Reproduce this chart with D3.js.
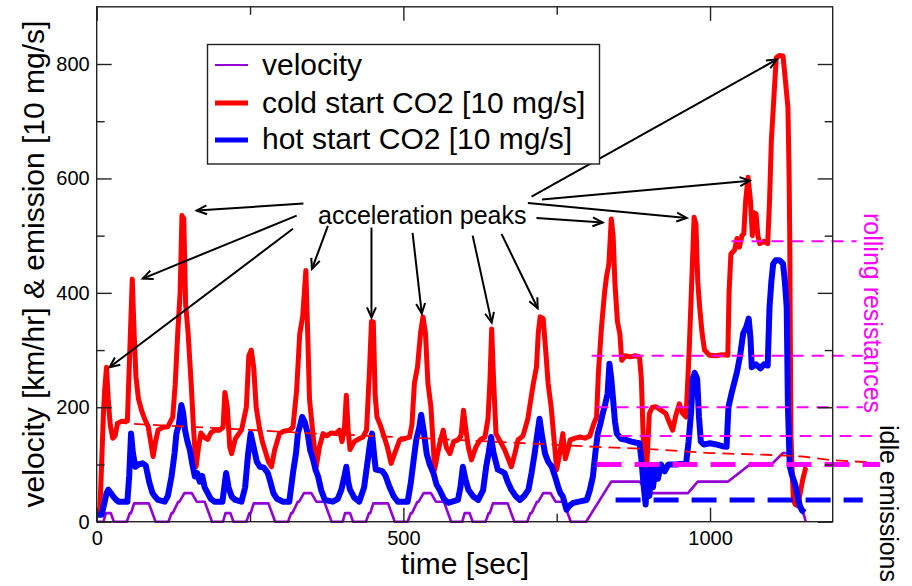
<!DOCTYPE html>
<html><head><meta charset="utf-8">
<script src="https://cdn.jsdelivr.net/npm/d3@7"></script>
<style>
body{margin:0;background:#fff}
svg{display:block}
text{font-family:"Liberation Sans",Arial,Helvetica,sans-serif}
</style>
</head><body>
<svg id="chart" width="912" height="586"></svg>
<script>
// ---------------- data ----------------
const xTicksMajor = [0, 500, 1000];
const xTicksMinor = [250, 750];
const yTicksMajor = [0, 200, 400, 600, 800];
const yTicksMinor = [100, 300, 500, 700];

const velTime = [0,11,15,23,28,49,54,56,61,85,96,117,122,124,133,135,143,155,163,176,188,
  206,210,218,223,244,249,251,256,280,291,312,317,319,328,330,338,350,358,371,383,
  401,405,413,418,439,444,446,451,475,486,507,512,514,523,525,533,545,553,566,578,
  596,600,608,613,634,639,641,646,670,681,702,707,709,718,720,728,740,748,761,773,
  798,839,885,902,964,980,1029,1065,1100,1119,1127,1156];
const velocity = [0,0,15,15,0,0,15,15,32,32,0,0,15,15,35,35,50,50,35,35,0,
  0,15,15,0,0,15,15,32,32,0,0,15,15,35,35,50,50,35,35,0,
  0,15,15,0,0,15,15,32,32,0,0,15,15,35,35,50,50,35,35,0,
  0,15,15,0,0,15,15,32,32,0,0,15,15,35,35,50,50,35,35,0,
  0,70,70,50,50,70,70,100,100,120,120,0];

const coldTime = [0,5,8,11,13,16,19,22,26,30,34,40,50,54,58,61,64,68,73,78,84,88,92,96,100,108,116,124,128,132,136,139,142,145,149,154,158,162,166,170,175,181,186,192,200,206,209,213,217,220,226,236,244,248,252,256,260,265,270,280,285,290,298,305,314,320,326,331,336,341,344,347,352,358,363,369,375,382,390,396,400,404,407,410,413,420,428,434,440,445,448,451,454,457,462,467,474,480,486,494,502,510,514,518,523,528,532,536,540,545,551,556,560,565,570,576,582,589,594,598,602,606,611,618,625,633,638,641,644,647,651,658,665,671,676,682,687,695,703,708,712,717,720,723,728,732,736,741,746,750,755,760,764,768,772,780,788,796,804,810,815,818,823,828,831,835,839,842,845,849,853,856,862,870,878,885,888,891,894,897,901,906,912,920,928,933,939,944,950,955,961,966,970,974,977,980,983,987,991,999,1010,1020,1029,1031,1034,1040,1044,1048,1052,1055,1058,1062,1066,1069,1072,1075,1078,1081,1088,1094,1097,1100,1104,1108,1113,1119,1123,1127,1129,1130,1131,1132,1134,1136,1139,1143,1147,1151,1156,1158];
const coldCO2 = [15,15,100,190,230,270,210,170,146,150,172,175,176,300,424,330,253,215,195,180,166,140,114,140,160,165,166,183,240,328,400,535,530,380,330,242,160,96,130,155,148,144,155,160,160,165,226,200,130,119,145,160,200,290,300,270,200,166,140,105,96,125,154,158,160,165,230,328,360,439,330,213,160,96,130,154,150,155,154,160,140,165,221,160,126,140,145,148,160,270,350,349,220,183,170,154,130,102,120,143,145,148,170,242,270,330,358,330,242,200,91,120,140,160,130,119,140,143,150,195,160,130,108,130,143,148,180,242,337,250,154,140,126,110,96,120,143,150,180,215,242,270,330,358,355,300,242,200,140,91,120,154,110,125,143,146,148,146,150,170,183,260,340,400,427,450,529,500,415,350,328,282,290,288,290,288,250,150,85,100,189,200,201,195,189,175,160,185,206,190,183,300,415,532,520,420,376,330,300,291,290,292,291,400,468,475,495,480,500,503,560,602,560,500,540,538,500,486,490,486,560,666,740,811,815,814,770,724,600,492,300,150,85,38,30,28,50,73,94,95];

const hotTime = [0,8,12,16,19,23,27,32,36,50,53,56,59,63,68,75,80,86,91,95,100,111,116,122,127,130,134,138,141,144,148,152,156,160,164,168,172,176,181,186,192,205,208,211,215,220,226,236,242,247,251,256,261,266,272,279,283,288,294,304,314,320,325,328,332,335,339,344,348,353,357,361,366,372,385,393,399,404,407,410,413,420,428,436,442,446,449,452,455,461,466,471,477,484,491,507,512,517,521,526,529,533,538,543,549,554,559,566,573,589,593,597,601,606,614,622,630,635,639,643,647,654,660,665,670,676,683,690,697,704,709,714,718,722,726,731,736,742,747,752,756,760,766,771,777,790,799,804,809,813,817,821,825,829,833,836,839,842,845,848,855,863,872,880,885,888,892,895,898,901,904,907,911,915,920,926,932,945,961,965,969,972,975,979,982,985,990,1000,1010,1020,1027,1030,1035,1040,1044,1049,1054,1059,1063,1066,1068,1075,1082,1088,1094,1097,1100,1103,1107,1113,1119,1122,1125,1127,1130,1134,1138,1142,1146,1150,1154];
const hotCO2 = [12,12,30,50,56,50,44,38,35,35,80,154,120,96,100,102,98,68,50,44,38,35,45,79,120,154,170,204,190,160,140,125,100,79,85,70,80,60,50,40,35,35,60,85,60,44,38,35,60,120,154,130,105,96,95,85,70,50,40,35,35,85,120,154,170,183,175,154,125,108,90,79,55,38,35,40,56,80,96,70,56,42,35,60,108,140,154,120,91,90,88,80,62,45,35,35,67,110,143,165,187,160,119,100,85,65,56,40,33,38,60,96,75,56,44,38,55,96,120,148,120,91,88,85,70,56,45,38,45,56,85,119,150,180,150,119,105,96,80,62,50,44,21,28,33,36,38,55,79,120,154,170,189,205,224,276,250,213,175,154,145,143,140,138,137,110,60,30,90,45,95,60,95,75,100,88,100,100,102,140,189,250,260,250,183,140,135,137,135,132,131,200,224,245,262,290,329,340,355,320,270,275,268,275,273,375,420,451,457,457,451,420,375,201,97,80,68,50,28,20,16];

// thin red cold-start trend line
const trendTime = [30,60,130,190,340,530,720,812,900,1000,1092,1150,1195,1270];
const trendCO2 = [173,171,167,164,155,146,136,131,127,120,117,114,108,103];

// reference levels (rolling resistances / idle emissions)
const refLevel = [490, 290, 200, 150, 100, 38];
const refStart = [1035, 807, 815, 820, 815, 846];
const refEnd   = [1239, 1249, 1249, 1277, 1277, 1249];

// "acceleration peaks" arrows: [time, value] from -> to
const arrowFrom = [[337,556],[326,535],[320,512],[377,517],[448,514],[515,505],[613,500],[660,503],[717,531],[703,557],[726,563],[709,568]];
const arrowTo   = [[163,544],[75,425],[21,270],[351,442],[448,357],[530,364],[644,348],[719,373],[825,523],[962,531],[1065,596],[1109,808]];

const legendLabels = ["velocity", "cold start CO2 [10 mg/s]", "hot start CO2 [10 mg/s]"];

// ---------------- drawing ----------------
const svg = d3.select("#chart");
const L = 96.7, R = 832.7, T = 6.8, B = 521.7;
const x = d3.scaleLinear().domain([0, 1200]).range([L, R]);
const y = d3.scaleLinear().domain([0, 900]).range([B, T]);

const COL = {vel: "#9400d3", cold: "#ff0000", hot: "#0000ff", mag: "#ff00ff", axis: "#222"};

const zip = (a, b) => a.map((d, i) => [d, b[i]]);
const line = d3.line().x(d => x(d[0])).y(d => y(d[1]));

// series
svg.append("path").datum(zip(velTime, velocity)).attr("d", line)
  .attr("fill", "none").attr("stroke", COL.vel).attr("stroke-width", 2.6).attr("stroke-linejoin", "round");
svg.append("path").datum(zip(coldTime, coldCO2)).attr("d", line)
  .attr("fill", "none").attr("stroke", COL.cold).attr("stroke-width", 5).attr("stroke-linejoin", "round");
svg.append("path").datum(zip(hotTime, hotCO2)).attr("d", line)
  .attr("fill", "none").attr("stroke", COL.hot).attr("stroke-width", 6).attr("stroke-linejoin", "round");

// trend
svg.append("path").datum(zip(trendTime, trendCO2)).attr("d", line)
  .attr("fill", "none").attr("stroke", COL.cold).attr("stroke-width", 1.8).attr("stroke-dasharray", "12,7");

// reference dashed levels
const refStyle = [
  {c: COL.mag, w: 2, d: "12,8"},
  {c: COL.mag, w: 2, d: "12,8"},
  {c: COL.mag, w: 2, d: "12,8"},
  {c: COL.mag, w: 2, d: "12,8"},
  {c: COL.mag, w: 5, d: "25,13"},
  {c: COL.hot, w: 5, d: "25,13"}
];
refLevel.forEach((lv, i) => {
  svg.append("line")
    .attr("x1", x(refStart[i])).attr("x2", x(refEnd[i]))
    .attr("y1", y(lv)).attr("y2", y(lv))
    .attr("stroke", refStyle[i].c).attr("stroke-width", refStyle[i].w)
    .attr("stroke-dasharray", refStyle[i].d);
});

// frame
svg.append("rect").attr("x", L).attr("y", T).attr("width", R - L).attr("height", B - T)
  .attr("fill", "none").attr("stroke", COL.axis).attr("stroke-width", 1.4);

function styleAxis(g) {
  g.select(".domain").remove();
  g.selectAll(".tick line").attr("stroke", COL.axis).attr("stroke-width", 1.4);
  g.selectAll(".tick text").attr("fill", "#000").attr("font-size", 20)
    .attr("font-family", '"Liberation Sans",Arial,sans-serif');
}
// bottom
svg.append("g").attr("transform", `translate(0,${B})`)
  .call(d3.axisBottom(x).tickValues(xTicksMajor).tickSize(-14).tickPadding(9).tickFormat(d3.format("d")))
  .call(styleAxis);
svg.append("g").attr("transform", `translate(0,${B})`)
  .call(d3.axisBottom(x).tickValues(xTicksMinor).tickSize(-8).tickFormat(""))
  .call(styleAxis);
// top
svg.append("g").attr("transform", `translate(0,${T})`)
  .call(d3.axisTop(x).tickValues(xTicksMajor).tickSize(-14).tickFormat(""))
  .call(styleAxis);
svg.append("g").attr("transform", `translate(0,${T})`)
  .call(d3.axisTop(x).tickValues(xTicksMinor).tickSize(-8).tickFormat(""))
  .call(styleAxis);
// left
svg.append("g").attr("transform", `translate(${L},0)`)
  .call(d3.axisLeft(y).tickValues(yTicksMajor).tickSize(-15).tickPadding(7).tickFormat(d3.format("d")))
  .call(styleAxis);
svg.append("g").attr("transform", `translate(${L},0)`)
  .call(d3.axisLeft(y).tickValues(yTicksMinor).tickSize(-8).tickFormat(""))
  .call(styleAxis);
// right
svg.append("g").attr("transform", `translate(${R},0)`)
  .call(d3.axisRight(y).tickValues(yTicksMajor).tickSize(-15).tickFormat(""))
  .call(styleAxis);
svg.append("g").attr("transform", `translate(${R},0)`)
  .call(d3.axisRight(y).tickValues(yTicksMinor).tickSize(-8).tickFormat(""))
  .call(styleAxis);

// axis titles
svg.append("text").attr("x", 465).attr("y", 574).attr("text-anchor", "middle")
  .attr("font-size", 30).text("time [sec]");
svg.append("text").attr("transform", "translate(44,264) rotate(-90)").attr("text-anchor", "middle")
  .attr("font-size", 30).text("velocity [km/hr] & emission [10 mg/s]");

// right-side labels
svg.append("text").attr("transform", "translate(864,213) rotate(90)")
  .attr("font-size", 25).attr("fill", COL.mag).text("rolling resistances");
svg.append("text").attr("transform", "translate(880,425) rotate(90)")
  .attr("font-size", 25).attr("fill", "#000").text("idle emissions");

// acceleration peaks annotation
svg.append("text").attr("x", 318).attr("y", 224).attr("font-size", 25).text("acceleration peaks");
arrowFrom.forEach((f, i) => {
  const x1 = x(f[0]), y1 = y(f[1]), x2 = x(arrowTo[i][0]), y2 = y(arrowTo[i][1]);
  const a = Math.atan2(y2 - y1, x2 - x1), hl = 11, ha = 0.42;
  svg.append("line").attr("x1", x1).attr("y1", y1).attr("x2", x2).attr("y2", y2)
    .attr("stroke", "#000").attr("stroke-width", 2);
  svg.append("path")
    .attr("d", `M${x2 - hl * Math.cos(a - ha)},${y2 - hl * Math.sin(a - ha)}L${x2},${y2}L${x2 - hl * Math.cos(a + ha)},${y2 - hl * Math.sin(a + ha)}`)
    .attr("fill", "none").attr("stroke", "#000").attr("stroke-width", 2);
});

// legend
const lg = svg.append("g");
lg.append("rect").attr("x", 207.5).attr("y", 44.5).attr("width", 392).attr("height", 119.5)
  .attr("fill", "#fff").attr("stroke", COL.axis).attr("stroke-width", 1.4);
const legCols = [COL.vel, COL.cold, COL.hot];
const legW = [2, 5, 5];
legendLabels.forEach((lab, i) => {
  const yy = [65, 103, 140][i];
  lg.append("line").attr("x1", 215).attr("x2", 248).attr("y1", yy).attr("y2", yy)
    .attr("stroke", legCols[i]).attr("stroke-width", legW[i]);
  lg.append("text").attr("x", 262).attr("y", [75, 113, 149][i]).attr("font-size", 30).text(lab);
});
</script>
</body></html>
